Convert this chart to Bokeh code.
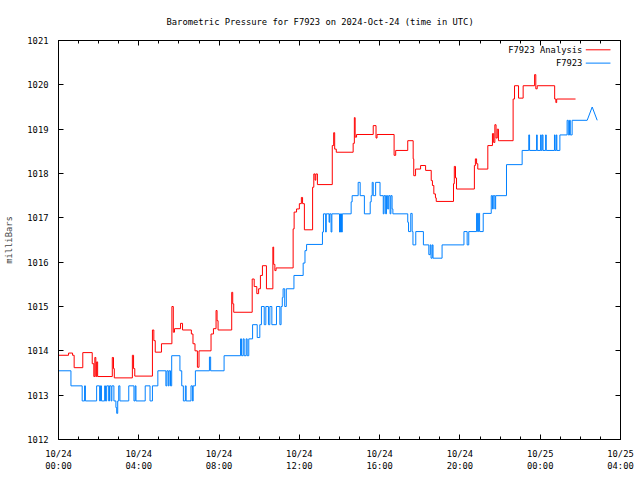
from bokeh.plotting import figure
from bokeh.models import Range1d, FixedTicker, LinearAxis, Label, Arrow, CustomJSTickFormatter
from bokeh.embed import file_html
from bokeh.resources import INLINE

FONT = "DejaVu Sans Mono"
FS = "8.8px"

title_text = "Barometric Pressure for F7923 on 2024-Oct-24 (time in UTC)"
y_label = "milliBars"
x_tick_hours = [0, 4, 8, 12, 16, 20, 24, 28]
x_tick_labels = ["10/24\n00:00", "10/24\n04:00", "10/24\n08:00", "10/24\n12:00",
                 "10/24\n16:00", "10/24\n20:00", "10/25\n00:00", "10/25\n04:00"]
x_minor_hours = list(range(0, 29))
y_ticks = list(range(1012, 1022))

series_names = ["F7923 Analysis", "F7923"]

# hours since 2024-10-24 00:00 UTC, value after each change (mb)
analysis_t = [0.00, 0.50, 0.70, 0.78, 1.21, 1.68, 1.76, 1.81, 1.86, 1.90, 1.95, 2.68, 2.74, 2.78,
              3.68, 3.74, 3.80, 4.68, 4.75, 4.82, 5.13, 5.65, 5.72, 5.78, 6.08, 6.18, 6.62, 6.70,
              6.80, 6.92, 7.00, 7.60, 7.72, 7.85, 7.90, 7.95, 8.63, 8.68, 8.73,
              9.65, 9.75, 9.88, 9.97, 10.06, 10.16, 10.36, 10.68, 10.72, 10.78, 10.84,
              11.69, 11.74, 11.86, 12.00, 12.10, 12.16, 12.25, 12.66, 12.72, 12.78, 12.82, 12.90,
              13.64, 13.71, 13.76, 13.84, 14.68,
              14.74, 14.78, 14.85, 15.68, 15.82, 15.87, 16.72, 16.80, 17.40, 17.67, 17.70, 17.79,
              18.04, 18.29, 18.57, 18.63, 18.70, 18.78, 18.82, 19.68, 19.72, 19.78, 19.83,
              20.72, 20.77, 20.83, 20.89, 21.39,
              21.62, 21.68, 21.74, 21.80, 21.86, 21.92, 21.99, 22.65, 22.72, 22.92, 23.15, 23.72, 23.78,
              23.85, 24.72, 24.78, 24.82, 25.76]
analysis_v = [1013.90, 1013.95, 1013.90, 1013.62, 1013.96, 1013.71, 1013.42, 1013.85, 1013.42, 1013.75,
              1013.42, 1013.85, 1013.60, 1013.39, 1013.90, 1013.60, 1013.43, 1014.47, 1014.23, 1013.97,
              1014.16, 1015.00, 1014.42, 1014.50, 1014.62, 1014.47, 1014.38, 1014.16, 1014.00, 1013.63,
              1014.00, 1014.38, 1014.50, 1014.91, 1014.68, 1014.47, 1015.32, 1015.06, 1014.87,
              1015.62, 1015.45, 1015.29, 1015.40, 1015.70, 1015.92, 1015.40, 1016.34, 1015.95, 1015.81, 1015.87,
              1016.75, 1017.13, 1017.20, 1017.32, 1017.46, 1017.32, 1016.73, 1017.69, 1017.99, 1017.85, 1017.99, 1017.75,
              1018.63, 1018.92, 1018.55, 1018.48, 1018.68,
              1019.26, 1018.82, 1018.88, 1019.08, 1018.80, 1018.88, 1018.41, 1018.52, 1018.74, 1018.33, 1017.95, 1018.10,
              1018.18, 1018.07, 1017.84, 1017.73, 1017.54, 1017.45, 1017.37, 1017.77, 1018.16, 1017.90, 1017.65,
              1018.18, 1018.33, 1018.22, 1018.10, 1018.63,
              1018.90, 1018.70, 1019.10, 1018.80, 1019.00, 1018.74, 1018.74, 1019.68, 1019.98, 1019.70, 1019.98,
              1020.23, 1019.91, 1019.98, 1019.68, 1019.60, 1019.68, 1019.68]

obs_t = [0.00, 0.62, 1.18, 1.30, 1.34, 1.90, 2.05, 2.09, 2.14, 2.30, 2.34, 2.40, 2.50, 2.54, 2.62,
         2.66, 2.76, 2.86, 2.90, 2.95, 3.00, 3.06, 3.50, 3.76, 3.82, 3.86, 4.32, 4.56, 4.68, 4.95,
         5.35, 5.40, 5.47, 5.51, 5.58, 5.64, 6.05, 6.14, 6.22, 6.32, 6.36, 6.60, 6.67, 6.71, 6.82,
         7.52, 7.58, 8.25, 9.07, 9.12, 9.20, 9.25, 9.35, 9.40, 9.48, 9.67, 9.90, 10.03, 10.11,
         10.25, 10.33, 10.46, 10.53, 10.63, 10.86, 11.03, 11.09, 11.15, 11.19, 11.27, 11.35, 11.73,
         12.19, 12.28, 12.36, 13.15, 13.20, 13.31, 13.34, 13.48, 13.51, 13.58, 13.62, 14.00, 14.05,
         14.10, 14.14, 14.58, 14.63, 14.93, 15.03, 15.24, 15.53, 15.58, 15.63, 15.68, 15.80, 16.02,
         16.18, 16.22, 16.30, 16.34, 16.40, 16.45, 16.52, 16.56, 16.62, 16.66,
         17.40, 17.44, 17.55, 17.62, 17.66, 17.80, 18.18, 18.45, 18.52, 18.56, 18.62, 18.66, 19.11,
         20.20, 20.36, 20.44, 20.83, 20.88, 20.93, 20.98, 21.16, 21.56, 21.62, 21.66, 21.74, 21.78,
         22.32, 23.10, 23.43, 23.47, 23.82, 23.85, 24.02, 24.05, 24.10, 24.14, 24.27, 24.30, 24.71,
         24.74, 24.80, 24.83, 24.98, 25.34, 25.40, 25.46, 25.50, 25.59, 26.34]
obs_v = [1013.55, 1013.21, 1012.87, 1013.21, 1012.87, 1013.21, 1012.87, 1013.21, 1012.87, 1013.21,
         1012.87, 1013.21, 1012.87, 1013.21, 1012.87, 1013.21, 1012.87, 1012.72, 1012.59, 1012.87,
         1013.21, 1012.87, 1013.21, 1012.87, 1013.21, 1012.87, 1013.21, 1012.87, 1013.21, 1013.55,
         1013.21, 1013.55, 1013.21, 1013.55, 1013.21, 1013.89, 1013.55, 1013.21, 1012.87, 1013.21,
         1012.87, 1013.21, 1012.87, 1013.21, 1013.55,
         1013.86, 1013.55, 1013.89, 1014.27, 1013.89, 1014.27, 1013.89, 1014.27, 1013.89, 1014.27,
         1014.59, 1014.30, 1014.59, 1015.00,
         1014.59, 1015.00, 1014.59, 1015.00, 1014.59, 1015.00, 1014.59, 1015.00, 1015.20, 1015.40,
         1015.00, 1015.40, 1015.70,
         1015.98, 1016.26, 1016.40, 1016.68, 1017.09, 1016.68, 1017.09, 1016.90, 1017.09, 1016.68,
         1017.09, 1016.68, 1017.09,
         1016.68, 1017.09, 1017.36, 1017.50, 1017.80, 1017.50, 1017.09, 1017.36, 1017.50, 1017.80,
         1017.50, 1017.80, 1017.50,
         1017.09, 1017.50, 1017.09, 1017.50, 1017.20, 1017.50, 1017.09, 1017.50, 1017.20, 1017.09,
         1016.90, 1016.69, 1017.10, 1016.69, 1016.39, 1016.69, 1016.39, 1016.17, 1016.39, 1016.09,
         1016.39, 1016.09, 1016.39,
         1016.69, 1016.39, 1016.69, 1017.10, 1016.69, 1017.10, 1016.69, 1017.10, 1017.50, 1017.20,
         1017.50, 1017.20, 1017.50,
         1018.20, 1018.52, 1018.87, 1018.52, 1018.87, 1018.52, 1018.87, 1018.52, 1018.87, 1018.52,
         1018.87, 1018.52, 1018.87,
         1018.52, 1018.87, 1018.52, 1018.87, 1019.20, 1018.87, 1019.20, 1018.87, 1019.20, 1019.20]
obs_tail_t = [26.34, 26.59, 26.84]
obs_tail_v = [1019.20, 1019.50, 1019.20]

RED = "#ff0000"
BLUE = "#0080ff"

p = figure(width=640, height=480, x_range=Range1d(0, 28), y_range=Range1d(1012, 1021),
           output_backend="svg", toolbar_location=None,
           min_border_left=58, min_border_right=20, min_border_top=40, min_border_bottom=41)
p.xgrid.visible = False
p.ygrid.visible = False
p.outline_line_color = "black"
p.outline_line_width = 1
p.background_fill_color = "white"
p.border_fill_color = "white"

p.title.text = title_text
p.title.align = "left"
p.title.offset = 108
p.title.text_font = FONT
p.title.text_font_size = FS
p.title.text_font_style = "normal"
p.title.text_color = "black"
p.title.vertical_align = "top"
p.title.standoff = 24

xt = FixedTicker(ticks=x_tick_hours, minor_ticks=x_minor_hours)
yt = FixedTicker(ticks=y_ticks, minor_ticks=[])
blank = CustomJSTickFormatter(code="return ''")

def style(ax, labels=True):
    ax.axis_line_color = "black"
    ax.major_tick_in = 5
    ax.major_tick_out = 0
    ax.minor_tick_in = 3
    ax.minor_tick_out = 0
    ax.major_tick_line_color = "black"
    ax.minor_tick_line_color = "black"
    ax.major_label_text_font = FONT
    ax.major_label_text_font_size = FS
    ax.major_label_text_color = "black"
    ax.major_label_standoff = 8 if labels else 0
    if not labels:
        ax.formatter = blank

xa = p.xaxis[0]
xa.ticker = xt
xa.major_label_overrides = {h: lab for h, lab in zip(x_tick_hours, x_tick_labels)}
style(xa)
xa.major_label_standoff = 9

ya = p.yaxis[0]
ya.ticker = yt
style(ya)
ya.minor_tick_line_color = None
ya.major_label_standoff = 10
ya.axis_label = y_label
ya.axis_label_text_font = FONT
ya.axis_label_text_font_size = FS
ya.axis_label_text_font_style = "normal"
ya.axis_label_standoff = 10

top = LinearAxis(ticker=xt)
style(top, labels=False)
p.add_layout(top, "above")
right = LinearAxis(ticker=yt)
style(right, labels=False)
right.minor_tick_line_color = None
p.add_layout(right, "right")

p.step(analysis_t, analysis_v, mode="after", line_color=RED, line_width=1)
p.step(obs_t, obs_v, mode="after", line_color=BLUE, line_width=1)
p.line(obs_tail_t, obs_tail_v, line_color=BLUE, line_width=1)

# legend (text left of sample line, as in the original)
for name, col, ly in zip(series_names, [RED, BLUE], [1020.79, 1020.49]):
    p.add_layout(Label(x=26.1, y=ly, text=name, text_align="right", text_baseline="middle",
                       text_font=FONT, text_font_size=FS, text_color="black"))
    p.add_layout(Arrow(end=None, x_start=26.27, y_start=ly, x_end=27.5, y_end=ly,
                       line_color=col, line_width=1))

open("out.html", "w").write(file_html(p, INLINE))
